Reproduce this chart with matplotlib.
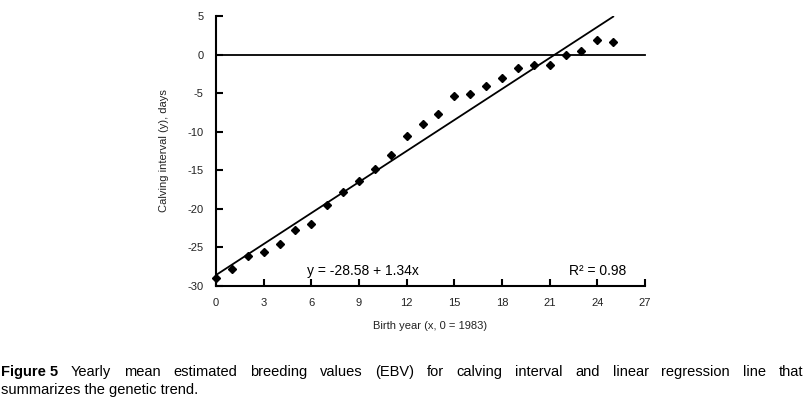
import numpy as np
import matplotlib
matplotlib.use("Agg")
import matplotlib.pyplot as plt

plt.rcParams['font.family'] = ['Liberation Sans', 'DejaVu Sans']
plt.rcParams['axes.unicode_minus'] = False

# === Data ===
birth_year = list(range(26))
ebv_ci = [-28.9, -27.8, -26.1, -25.6, -24.5, -22.7, -21.9, -19.5, -17.8, -16.4,
          -14.8, -13.0, -10.6, -9.0, -7.75, -5.35, -5.1, -4.1, -3.1, -1.7,
          -1.35, -1.3, 0.0, 0.4, 1.95, 1.65]
intercept, slope = -28.58, 1.34
x_ticks = list(range(0, 28, 3))
y_ticks = list(range(-30, 6, 5))
caption_bold = "Figure 5"
caption_line1 = "Yearly mean estimated breeding values (EBV) for calving interval and linear regression line that"
caption_line2 = "summarizes the genetic trend."

fig = plt.figure(figsize=(8.04, 3.98), dpi=100)
ax = fig.add_axes([216 / 804, 1 - 286 / 398, (645 - 216) / 804, (286 - 16) / 398])

# regression line
xl = np.array([0, 25])
ax.plot(xl, intercept + slope * xl, color="black", lw=1.3)
# zero line
ax.plot([0, 27], [0, 0], color="black", lw=1.3, clip_on=False)
# points
ax.plot(birth_year, ebv_ci, linestyle="none", marker="D", ms=4.5,
        color="black", clip_on=False, zorder=5)

ax.set_xlim(0, 27)
ax.set_ylim(-30, 5)
ax.set_xticks(x_ticks)
ax.set_yticks(y_ticks)
for s in ["top", "right"]:
    ax.spines[s].set_visible(False)
for s in ["left", "bottom"]:
    ax.spines[s].set_linewidth(1.5)
ax.tick_params(direction="in", length=5, width=1.5, labelsize=8, pad=9,
               colors="black", labelcolor="#222222")

ax.set_xlabel("Birth year (x, 0 = 1983)", fontsize=8, labelpad=9, color="#222222")
ax.set_ylabel("Calving interval (y), days", fontsize=8, labelpad=13, color="#222222")

ax.text(5.7, -28.6, f"y = {intercept} + {slope}x", fontsize=10, va="baseline")
ax.text(22.2, -28.6, "R² = 0.98", fontsize=10, va="baseline")

# caption, first line justified to the full width
fig.canvas.draw()
renderer = fig.canvas.get_renderer()
words = [(caption_bold, "bold")] + [(w, "normal") for w in caption_line1.split()]
cap_size = 10.5
artists = []
for w, fw in words:
    t = fig.text(0, 1 - 376 / 398, w, fontsize=cap_size, fontweight=fw,
                 va="baseline", ha="left")
    artists.append(t)
widths = [t.get_window_extent(renderer).width for t in artists]
total_w = 802
gap = (total_w - sum(widths)) / (len(widths) - 1)
xpos = 1
for t, wd in zip(artists, widths):
    t.set_x(xpos / 804)
    xpos += wd + gap
fig.text(1 / 804, 1 - 394 / 398, caption_line2, fontsize=cap_size,
         va="baseline", ha="left")

fig.savefig("out.png", dpi=100)
